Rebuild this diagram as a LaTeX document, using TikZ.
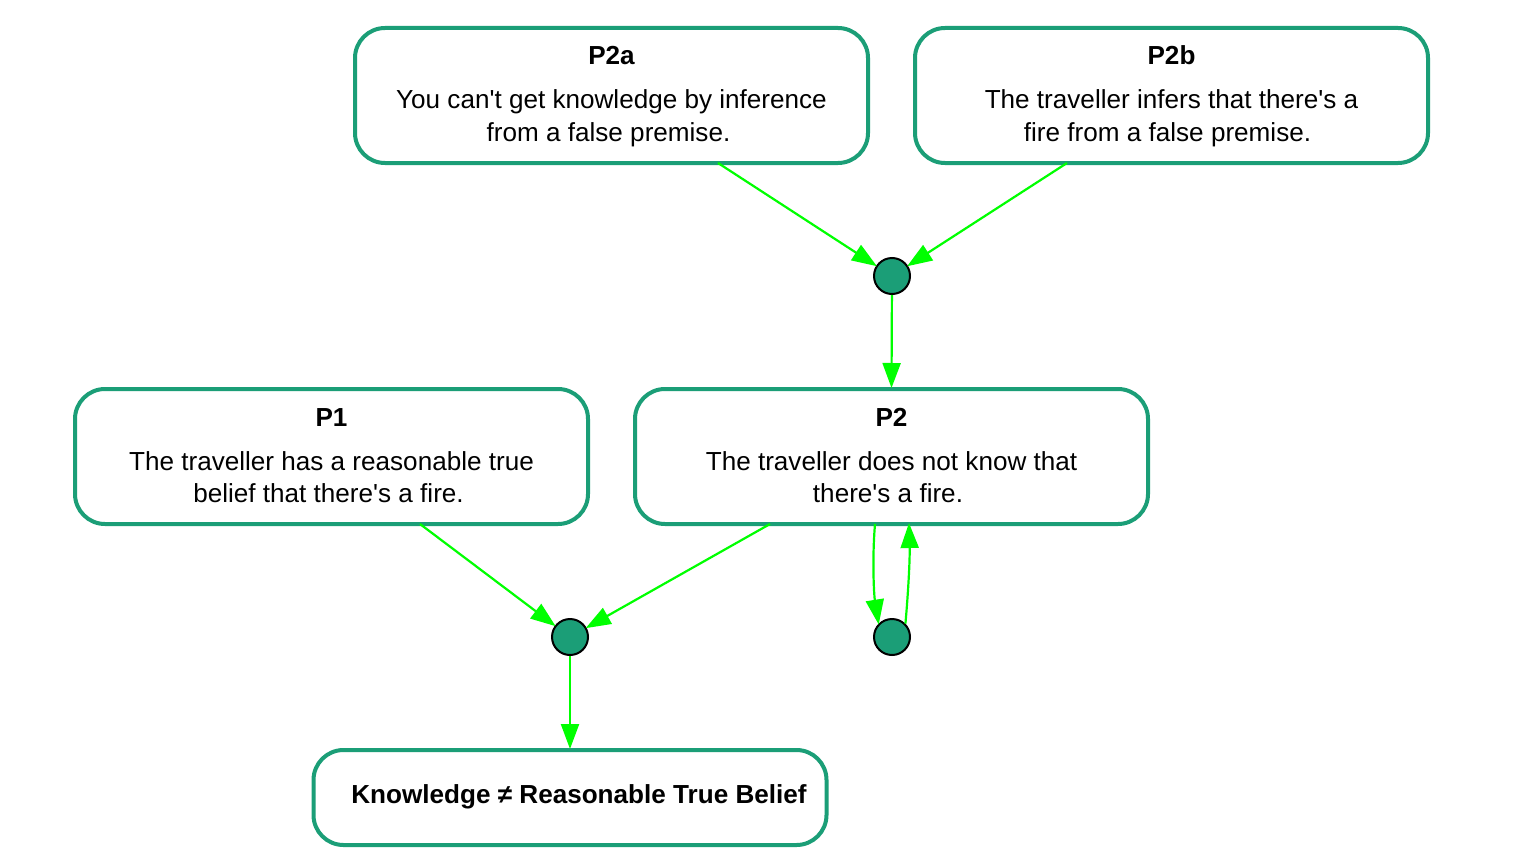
\documentclass[tikz,border=0pt]{standalone}
\usepackage{fontspec}
\setmainfont{Liberation Sans}
\usetikzlibrary{arrows.meta}
\definecolor{boxgreen}{RGB}{27,158,119}
\definecolor{arrgreen}{RGB}{0,255,0}
\newcommand{\apo}{\textquotesingle}
\tikzset{
  claim/.style={draw=boxgreen, line width=4pt, rounded corners=30pt, fill=white,
    minimum width=513pt, minimum height=135pt, inner sep=0pt},
  txt/.style={font=\fontsize{26.1pt}{32pt}\selectfont, anchor=base, inner sep=0pt},
  ttl/.style={txt, font=\fontsize{26.1pt}{32pt}\selectfont\bfseries},
  junction/.style={circle, draw=black, line width=2pt, fill=boxgreen, minimum size=36pt, inner sep=0pt},
  link/.style={draw=arrgreen, line width=2.2pt, -{Triangle[length=25pt,width=18pt]}, shorten >=-1pt}
}
\begin{document}
\begin{tikzpicture}[x=1pt,y=-1pt]
\useasboundingbox (0,0) rectangle (1530,864);
% boxes
\node[claim] (p2a) at (611.5,95.5) {};
\node[claim] (p2b) at (1171.5,95.5) {};
\node[claim] (p1) at (331.5,456.5) {};
\node[claim] (p2) at (891.5,456.5) {};
\node[claim, minimum height=95pt] (c) at (570,797.5) {};
% texts
\node[ttl] (p2at) at (611.5,65) {P2a};
\node[txt] (p2a1) at (611.5,109) {You can\apo t get knowledge by inference};
\node[txt] (p2a2) at (608.5,141) {from a false premise.};
\node[ttl] (p2bt) at (1171.5,65) {P2b};
\node[txt] (p2b1) at (1171.5,109) {The traveller infers that there\apo s a};
\node[txt] (p2b2) at (1167.5,141) {fire from a false premise.};
\node[ttl] (p1t) at (331.5,426) {P1};
\node[txt] (p11) at (331.5,470) {The traveller has a reasonable true};
\node[txt] (p12) at (328.5,502) {belief that there\apo s a fire.};
\node[ttl] (p2t) at (891.5,426) {P2};
\node[txt] (p21) at (891.5,470) {The traveller does not know that};
\node[txt] (p22) at (888,502) {there\apo s a fire.};
\node[ttl] (ct) at (579,803) {Knowledge ≠ Reasonable True Belief};
% junctions
\node[junction] (j1) at (892,276) {};
\node[junction] (j2) at (570,637) {};
\node[junction] (j3) at (892,637) {};
% connectors
\coordinate (a1) at (718,163);
\coordinate (a2) at (1067,163);
\coordinate (a3) at (420,524);
\coordinate (a4) at (770,524);
\coordinate (a5) at (875,524);
\coordinate (a7) at (909,524);
\draw[link] (a1) -- (j1);
\draw[link] (a2) -- (j1);
\draw[link] (j1) -- (p2.north);
\draw[link] (a3) -- (j2);
\draw[link] (a4) -- (j2);
\draw[link] (j2) -- (c.north);
\draw[link] (a5) .. controls (872,560) and (874,595) .. (j3.north west);
\draw[link] (j3.north east) .. controls (908,595) and (910,560) .. (a7);
\end{tikzpicture}
\end{document}
